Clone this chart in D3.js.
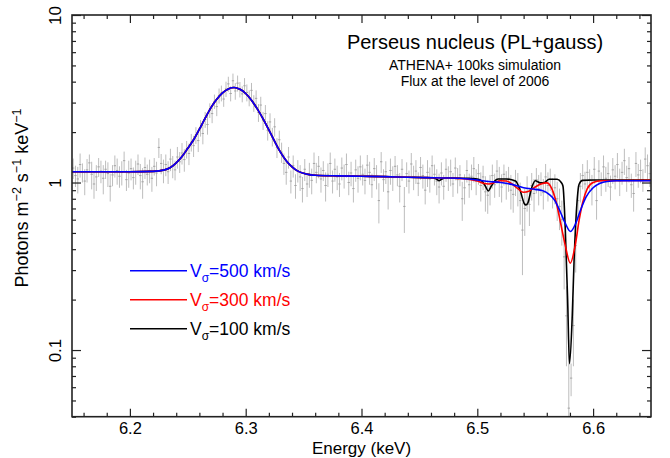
<!DOCTYPE html>
<html>
<head>
<meta charset="utf-8">
<script src="https://cdn.jsdelivr.net/npm/d3@7"></script>
<style>
  body { margin: 0; background: #fff; }
  svg { font-family: "Liberation Sans", Arial, Helvetica, sans-serif; }
</style>
</head>
<body>
<svg id="chart" width="670" height="458"></svg>
<script>
// simulated spectrum: 2 eV bins starting at 6.151 keV
const binStart = 6.151;
const binWidth = 0.002;
const flux = [
  1.22, 1.10, 1.05, 1.28, 1.15, 1.02, 1.19, 1.31, 1.12, 0.98,
  1.08, 1.24, 1.17, 1.06, 1.20, 1.13, 0.95, 1.11, 1.26, 1.18,
  1.09, 1.15, 1.35, 1.04, 1.14, 1.21, 1.07, 1.16, 1.29, 1.10,
  1.01, 1.23, 1.12, 1.18, 1.06, 1.25, 1.14, 1.62, 1.30, 1.18,
  1.28, 1.16, 1.38, 1.25, 1.19, 1.42, 1.33, 1.50, 1.37, 1.58,
  1.49, 1.74, 1.66, 1.92, 1.78, 2.12, 1.96, 2.38, 2.22, 2.70,
  2.58, 3.05, 2.84, 3.30, 3.42, 3.15, 3.62, 3.88, 3.40, 4.05,
  3.52, 3.92, 3.60, 3.38, 3.78, 3.45, 3.20, 3.55, 2.98, 3.18,
  2.62, 2.90, 2.35, 2.58, 2.05, 2.30, 1.88, 2.15, 1.62, 1.80,
  1.52, 1.30, 1.15, 1.42, 1.02, 1.26, 0.96, 1.18, 1.08, 0.92,
  1.20, 0.98, 1.12, 1.03, 1.30, 1.15, 1.25, 1.05, 1.18, 0.96,
  1.12, 1.30, 1.02, 1.20, 1.08, 0.98, 1.22, 1.10, 1.28, 1.00,
  1.14, 0.92, 1.19, 1.06, 1.24, 1.12, 1.03, 1.27, 1.15, 0.97,
  1.21, 1.09, 0.78, 1.33, 1.04, 1.16, 0.88, 1.18, 1.07, 1.25,
  1.11, 0.95, 1.20, 0.72, 1.13, 1.02, 1.29, 1.08, 1.17, 0.99,
  1.23, 1.10, 0.90, 1.15, 1.05, 1.26, 1.12, 1.02, 0.94, 1.14,
  0.95, 1.20, 1.07, 1.16, 0.98, 1.22, 1.04, 1.11, 0.80, 0.93,
  1.18, 0.97, 1.09, 1.21, 1.02, 1.13, 0.96, 1.08, 0.88, 0.84,
  0.92, 1.10, 0.97, 1.17, 1.03, 0.94, 1.12, 0.98, 1.06, 0.90,
  0.85, 1.01, 0.93, 0.78, 0.52, 0.70, 0.88, 0.74, 0.96, 0.86,
  1.04, 0.92, 0.99, 0.87, 1.08, 0.96, 1.05, 0.88, 0.93, 0.80,
  0.72, 0.60, 0.36, 0.16, 0.045, 0.068, 0.14, 0.42, 0.78, 0.95,
  1.10, 0.98, 1.15, 1.04, 0.92, 1.20, 0.78, 1.17, 0.99, 1.24,
  1.06, 1.13, 0.94, 1.19, 1.09, 1.28, 1.02, 1.15, 1.35, 1.07,
  1.21, 0.97, 0.86, 1.30, 1.11, 1.18, 1.04, 1.38, 1.26, 1.13
];
const fluxErr = [
  .17, .16, .19, .21, .15, .18, .19, .16, .21, .18,
  .19, .16, .18, .21, .15, .19, .18, .16, .19, .21,
  .16, .19, .18, .15, .21, .18, .16, .19, .18, .19,
  .21, .18, .16, .19, .18, .15, .19, .22, .18, .19,
  .19, .18, .21, .19, .16, .21, .19, .22, .21, .19,
  .22, .21, .24, .22, .26, .24, .27, .26, .29, .27,
  .32, .30, .35, .34, .37, .32, .38, .40, .35, .42,
  .40, .43, .38, .37, .42, .40, .35, .38, .34, .37,
  .32, .35, .29, .32, .27, .29, .24, .27, .22, .24,
  .21, .19, .18, .21, .16, .19, .16, .18, .19, .16,
  .18, .16, .19, .18, .21, .16, .19, .18, .16, .19,
  .18, .21, .16, .19, .18, .16, .19, .18, .21, .16,
  .19, .16, .18, .19, .21, .16, .18, .19, .18, .16,
  .19, .18, .21, .19, .16, .18, .19, .21, .18, .19,
  .16, .19, .18, .22, .19, .16, .21, .18, .19, .16,
  .19, .18, .16, .21, .18, .19, .16, .18, .19, .18,
  .16, .19, .18, .21, .16, .19, .18, .16, .21, .19,
  .18, .16, .19, .21, .18, .16, .19, .18, .21, .19,
  .19, .18, .16, .19, .21, .18, .16, .19, .18, .21,
  .19, .18, .21, .22, .24, .22, .21, .19, .18, .19,
  .18, .19, .16, .18, .21, .19, .16, .18, .19, .21,
  .20, .18, .13, .08, .07, .015, .06, .13, .18, .19,
  .19, .18, .21, .16, .19, .22, .18, .19, .16, .21,
  .18, .19, .16, .21, .18, .22, .19, .18, .24, .19,
  .21, .16, .19, .22, .18, .19, .16, .24, .21, .19
];

// model curves: common part (continuum + gaussian), identical for all three
const sharedE = [6.15, 6.20, 6.22, 6.23, 6.235, 6.24, 6.245, 6.25, 6.255, 6.26, 6.265, 6.27, 6.275,
  6.28, 6.285, 6.29, 6.295, 6.30, 6.305, 6.31, 6.315, 6.32, 6.325, 6.33, 6.335, 6.34, 6.345,
  6.35, 6.355, 6.36, 6.38, 6.40, 6.42, 6.44, 6.455];
const sharedF = [1.16, 1.16, 1.165, 1.19, 1.23, 1.31, 1.43, 1.60, 1.80, 2.08, 2.42, 2.80, 3.14,
  3.43, 3.62, 3.69, 3.60, 3.40, 3.10, 2.75, 2.40, 2.06, 1.76, 1.52, 1.35, 1.24, 1.17,
  1.135, 1.115, 1.105, 1.095, 1.09, 1.085, 1.075, 1.07];

// absorption part, V_sigma = 100 km/s
const blackE = [6.462, 6.465, 6.467, 6.469, 6.472, 6.48, 6.49, 6.50, 6.504, 6.507, 6.5095, 6.512,
  6.515, 6.518, 6.525, 6.533, 6.537, 6.5405, 6.542, 6.5435, 6.547, 6.550, 6.5545, 6.558, 6.562,
  6.569, 6.5725, 6.574, 6.576, 6.578, 6.5796, 6.582, 6.5835, 6.5855, 6.588, 6.591, 6.60, 6.65];
const blackF = [1.065, 1.045, 1.025, 1.045, 1.065, 1.065, 1.06, 1.05, 1.02, 0.95, 0.89, 0.95,
  1.02, 1.05, 1.05, 1.02, 0.90, 0.75, 0.735, 0.75, 0.93, 1.025, 0.995, 1.0, 1.045,
  1.045, 1.0, 0.95, 0.52, 0.20, 0.083, 0.16, 0.33, 0.66, 0.98, 1.03, 1.035, 1.035];

// V_sigma = 300 km/s
const redE = [6.48, 6.49, 6.50, 6.505, 6.51, 6.515, 6.52, 6.525, 6.53, 6.535, 6.5395, 6.545,
  6.55, 6.555, 6.56, 6.564, 6.568, 6.572, 6.576, 6.5803, 6.5845, 6.588, 6.591, 6.595, 6.60,
  6.607, 6.65];
const redF = [1.06, 1.05, 1.02, 0.99, 0.98, 1.0, 1.025, 1.02, 0.98, 0.92, 0.875, 0.89,
  0.94, 0.98, 0.995, 0.93, 0.77, 0.57, 0.42, 0.33, 0.42, 0.60, 0.76, 0.92, 1.0,
  1.025, 1.03];

// V_sigma = 500 km/s
const blueE = [6.47, 6.485, 6.50, 6.51, 6.52, 6.53, 6.54, 6.55, 6.556, 6.562, 6.567, 6.572,
  6.576, 6.5805, 6.585, 6.589, 6.594, 6.60, 6.606, 6.612, 6.62, 6.65];
const blueF = [1.065, 1.06, 1.035, 1.015, 1.0, 0.975, 0.93, 0.91, 0.895, 0.85, 0.78, 0.66,
  0.57, 0.51, 0.57, 0.68, 0.82, 0.93, 0.99, 1.015, 1.025, 1.025];

const legendSpeeds = [500, 300, 100];
const xTickValues = [6.2, 6.3, 6.4, 6.5, 6.6];
const yTickValues = [0.1, 1, 10];

const titleText = "Perseus nucleus (PL+gauss)";
const subtitleLines = ["ATHENA+ 100ks simulation", "Flux at the level of 2006"];

const margin = {top: 15, right: 19, bottom: 41.3, left: 72};
const width = 670, height = 458;
const svg = d3.select("#chart");

const x = d3.scaleLinear()
  .domain([6.15, 6.65])
  .range([margin.left, width - margin.right]);
const y = d3.scaleLog()
  .domain([0.04, 10])
  .range([height - margin.bottom, margin.top]);

const axisColor = "#222";
const fontStack = "Liberation Sans, Arial, sans-serif";

// data: error bars
const bins = flux.map((v, i) => ({e: binStart + i * binWidth, v: v, err: fluxErr[i]}));
const lowest = y.domain()[0];

const dataG = svg.append("g").attr("stroke", "#bdbdbd").attr("stroke-width", 1);
dataG.selectAll("line.err")
  .data(bins)
  .join("line")
  .attr("class", "err")
  .attr("x1", d => x(d.e)).attr("x2", d => x(d.e))
  .attr("y1", d => y(Math.max(d.v - d.err, lowest)))
  .attr("y2", d => y(d.v + d.err));
dataG.selectAll("line.bin")
  .data(bins)
  .join("line")
  .attr("class", "bin")
  .attr("stroke", "#a4a4a4")
  .attr("x1", d => x(d.e - binWidth / 2)).attr("x2", d => x(d.e + binWidth / 2))
  .attr("y1", d => y(d.v)).attr("y2", d => y(d.v));

// model lines
const toPts = (es, fs) => es.map((e, i) => [e, fs[i]]);
const shared = toPts(sharedE, sharedF);
const curves = [
  {pts: shared.concat(toPts(blackE, blackF)), color: "#000000"},
  {pts: shared.concat(toPts(redE, redF)), color: "#ff0000"},
  {pts: shared.concat(toPts(blueE, blueF)), color: "#0000ff"}
];
const line = d3.line()
  .x(d => x(d[0]))
  .y(d => y(d[1]))
  .curve(d3.curveMonotoneX);

svg.append("g").attr("fill", "none").attr("stroke-width", 1.6)
  .selectAll("path")
  .data(curves)
  .join("path")
  .attr("stroke", d => d.color)
  .attr("d", d => line(d.pts));

// axes (ticks point inward on all four sides)
const x0 = x.range()[0], x1 = x.range()[1];
const y0 = y.range()[0], y1 = y.range()[1];
const xMinor = x.ticks(25).filter(t => !xTickValues.some(v => Math.abs(v - t) < 1e-6));
const yMinor = y.ticks().filter(t => !yTickValues.some(v => Math.abs(v - t) < 1e-9));

function styleAxis(g) {
  g.select(".domain").remove();
  g.selectAll(".tick line").attr("stroke", axisColor).attr("stroke-width", 1.2);
}

svg.append("g").attr("transform", `translate(0,${y0})`)
  .call(d3.axisBottom(x).tickValues(xMinor).tickSize(-4).tickFormat(""))
  .call(styleAxis);
svg.append("g").attr("transform", `translate(0,${y0})`)
  .call(d3.axisBottom(x).tickValues(xTickValues).tickSize(-8).tickPadding(6).tickFormat(d3.format(".1f")))
  .call(styleAxis)
  .call(g => g.selectAll(".tick text").attr("fill", "#000").attr("font-size", 16.5)
    .attr("font-family", fontStack));
svg.append("g").attr("transform", `translate(0,${y1})`)
  .call(d3.axisTop(x).tickValues(xMinor).tickSize(-4).tickFormat(""))
  .call(styleAxis);
svg.append("g").attr("transform", `translate(0,${y1})`)
  .call(d3.axisTop(x).tickValues(xTickValues).tickSize(-8).tickFormat(""))
  .call(styleAxis);

svg.append("g").attr("transform", `translate(${x0},0)`)
  .call(d3.axisLeft(y).tickValues(yMinor).tickSize(-4).tickFormat(""))
  .call(styleAxis);
svg.append("g").attr("transform", `translate(${x0},0)`)
  .call(d3.axisLeft(y).tickValues(yTickValues).tickSize(-9).tickFormat(d => String(d)))
  .call(styleAxis)
  .call(g => g.selectAll(".tick text")
    .attr("fill", "#000").attr("font-size", 17)
    .attr("font-family", fontStack)
    .attr("x", 0).attr("dy", 0)
    .attr("text-anchor", "middle")
    .attr("transform", "translate(-11,0) rotate(-90)"));
svg.append("g").attr("transform", `translate(${x1},0)`)
  .call(d3.axisRight(y).tickValues(yMinor).tickSize(-4).tickFormat(""))
  .call(styleAxis);
svg.append("g").attr("transform", `translate(${x1},0)`)
  .call(d3.axisRight(y).tickValues(yTickValues).tickSize(-9).tickFormat(""))
  .call(styleAxis);

svg.append("rect")
  .attr("x", x0).attr("y", y1)
  .attr("width", x1 - x0).attr("height", y0 - y1)
  .attr("fill", "none").attr("stroke", axisColor).attr("stroke-width", 1.6);

// axis titles
svg.append("text")
  .attr("x", (x0 + x1) / 2).attr("y", 454)
  .attr("text-anchor", "middle").attr("font-size", 17)
  .text("Energy (keV)");

const yTitle = svg.append("text")
  .attr("transform", "translate(28,198) rotate(-90)")
  .attr("text-anchor", "middle").attr("font-size", 18);
yTitle.append("tspan").text("Photons m");
yTitle.append("tspan").attr("dy", -7).attr("font-size", 12.5).text("\u22122");
yTitle.append("tspan").attr("dy", 7).text(" s");
yTitle.append("tspan").attr("dy", -7).attr("font-size", 12.5).text("\u22121");
yTitle.append("tspan").attr("dy", 7).text(" keV");
yTitle.append("tspan").attr("dy", -7).attr("font-size", 12.5).text("\u22121");

// title block
svg.append("text")
  .attr("x", 475).attr("y", 49)
  .attr("text-anchor", "middle").attr("font-size", 20)
  .text(titleText);
svg.selectAll("text.sub")
  .data(subtitleLines)
  .join("text")
  .attr("class", "sub")
  .attr("x", 475).attr("y", (d, i) => 70 + i * 15.5)
  .attr("text-anchor", "middle").attr("font-size", 14)
  .text(d => d);

// legend
const legendColors = ["#0000ff", "#ff0000", "#000000"];
const legend = svg.append("g")
  .selectAll("g")
  .data(legendSpeeds)
  .join("g")
  .attr("transform", (d, i) => `translate(130,${270.7 + i * 29})`);
legend.append("line")
  .attr("x1", 0).attr("x2", 57)
  .attr("stroke", (d, i) => legendColors[i]).attr("stroke-width", 1.6);
const lt = legend.append("text")
  .attr("x", 60).attr("y", 6)
  .attr("font-size", 17.5)
  .attr("fill", (d, i) => legendColors[i]);
lt.append("tspan").text("V");
lt.append("tspan").attr("dy", 5).attr("font-size", 12).text("\u03c3");
lt.append("tspan").attr("dy", -5).text(d => "=" + d + " km/s");
</script>
</body>
</html>
